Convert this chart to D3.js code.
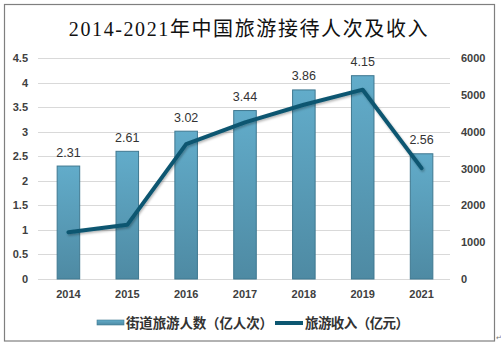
<!DOCTYPE html>
<html>
<head>
<meta charset="utf-8">
<script src="https://cdn.jsdelivr.net/npm/d3@7"></script>
<style>
  html, body { margin: 0; padding: 0; background: #fff; }
  svg { display: block; }
</style>
</head>
<body>
<div id="chart"></div>
<script>
// Visitors (bars, left axis) and revenue (line, right axis)
const years = ["2014", "2015", "2016", "2017", "2018", "2019", "2021"];
const visitors = [2.31, 2.61, 3.02, 3.44, 3.86, 4.15, 2.56];
const revenue = [1270, 1470, 3660, 4250, 4730, 5140, 3010];
const leftTicks = [0, 0.5, 1, 1.5, 2, 2.5, 3, 3.5, 4, 4.5];
const rightTicks = [0, 1000, 2000, 3000, 4000, 5000, 6000];
const titleText = "2014-2021年中国旅游接待人次及收入";
const barLegend = "街道旅游人数（亿人次）";
const lineLegend = "旅游收入（亿元）";

const width = 501, height = 345;
const plot = { left: 39, right: 451, top: 58, bottom: 279 };

const svg = d3.select("#chart").append("svg")
    .attr("width", width)
    .attr("height", height);

const defs = svg.append("defs");
const grad = defs.append("linearGradient")
    .attr("id", "barGrad")
    .attr("x1", 0).attr("y1", 0).attr("x2", 0).attr("y2", 1);
grad.append("stop").attr("offset", "0%").attr("stop-color", "#62acca");
grad.append("stop").attr("offset", "100%").attr("stop-color", "#4e8aa3");

const shadow = defs.append("filter").attr("id", "lineShadow")
    .attr("x", "-10%").attr("y", "-10%").attr("width", "120%").attr("height", "130%");
shadow.append("feDropShadow")
    .attr("dx", 1).attr("dy", 1.5).attr("stdDeviation", 1)
    .attr("flood-color", "#000").attr("flood-opacity", 0.3);

// outer frame
svg.append("rect")
    .attr("x", 4.5).attr("y", 4.5)
    .attr("width", 490).attr("height", 336.5)
    .attr("fill", "#fff")
    .attr("stroke", "#7f7f7f")
    .attr("stroke-width", 1.2);

svg.append("text")
    .attr("x", 496).attr("y", 340)
    .attr("font-size", 7)
    .attr("fill", "#777")
    .text("↵");

svg.append("text")
    .attr("x", 249).attr("y", 36)
    .attr("text-anchor", "middle")
    .attr("font-family", "'Liberation Serif', 'DejaVu Serif', 'Noto Sans CJK SC', serif")
    .attr("font-size", 20)
    .attr("letter-spacing", 1.6)
    .attr("fill", "#111")
    .text(titleText);

const x = d3.scaleBand()
    .domain(years)
    .range([plot.left, plot.right])
    .paddingInner(0.6)
    .paddingOuter(0.3);

const yLeft = d3.scaleLinear().domain([0, 4.5]).range([plot.bottom, plot.top]);
const yRight = d3.scaleLinear().domain([0, 6000]).range([plot.bottom, plot.top]);

// grid lines
svg.append("g")
    .selectAll("line")
    .data(leftTicks)
    .join("line")
    .attr("x1", plot.left - 1).attr("x2", plot.right - 1)
    .attr("y1", d => Math.round(yLeft(d)) + 0.5)
    .attr("y2", d => Math.round(yLeft(d)) + 0.5)
    .attr("stroke", "#d9d9d9")
    .attr("stroke-width", 1);

const labelFont = "'Liberation Sans', Arial, sans-serif";

function styleTicks(g) {
    g.select(".domain").remove();
    g.selectAll("text")
        .attr("font-family", labelFont)
        .attr("font-size", 11)
        .attr("font-weight", "bold")
        .attr("fill", "#404040");
}

svg.append("g")
    .attr("transform", `translate(28,0)`)
    .call(d3.axisLeft(yLeft).tickValues(leftTicks).tickSize(0).tickPadding(0)
        .tickFormat(d3.format("~g")))
    .call(styleTicks);

svg.append("g")
    .attr("transform", `translate(461,0)`)
    .call(d3.axisRight(yRight).tickValues(rightTicks).tickSize(0).tickPadding(0)
        .tickFormat(d3.format("d")))
    .call(styleTicks);

svg.append("g")
    .attr("transform", `translate(0,${plot.bottom + 11})`)
    .call(d3.axisBottom(x).tickSize(0).tickPadding(0))
    .call(styleTicks);

// bars
svg.append("g")
    .selectAll("rect")
    .data(visitors)
    .join("rect")
    .attr("x", (d, i) => x(years[i]) + 0.5)
    .attr("y", d => yLeft(d) + 0.5)
    .attr("width", x.bandwidth() - 1)
    .attr("height", d => plot.bottom - yLeft(d) - 0.5)
    .attr("fill", "url(#barGrad)")
    .attr("stroke", "#3f7890")
    .attr("stroke-width", 1);

svg.append("g")
    .selectAll("text")
    .data(visitors)
    .join("text")
    .attr("x", (d, i) => x(years[i]) + x.bandwidth() / 2)
    .attr("y", d => yLeft(d) - 9)
    .attr("text-anchor", "middle")
    .attr("font-family", labelFont)
    .attr("font-size", 12.5)
    .attr("fill", "#333")
    .text(d => d.toFixed(2));

// revenue line
const line = d3.line()
    .x((d, i) => x(years[i]) + x.bandwidth() / 2)
    .y(d => yRight(d));

svg.append("path")
    .datum(revenue)
    .attr("d", line)
    .attr("fill", "none")
    .attr("stroke", "#0d5771")
    .attr("stroke-width", 4)
    .attr("stroke-linejoin", "round")
    .attr("stroke-linecap", "round")
    .attr("filter", "url(#lineShadow)");

// legend: each label stretched to its measured slot
const legendY = 323;
const legendFont = "'Noto Sans CJK SC', sans-serif";
svg.append("rect")
    .attr("x", 97).attr("y", legendY - 3)
    .attr("width", 27).attr("height", 5)
    .attr("fill", "url(#barGrad)")
    .attr("stroke", "#3f7890")
    .attr("stroke-width", 0.6);
svg.append("text")
    .attr("x", 126).attr("y", legendY + 5)
    .attr("font-family", legendFont)
    .attr("font-size", 13.5)
    .attr("font-weight", "bold")
    .attr("fill", "#333")
    .attr("textLength", 147)
    .attr("lengthAdjust", "spacing")
    .text(barLegend);
svg.append("line")
    .attr("x1", 275).attr("x2", 303)
    .attr("y1", legendY).attr("y2", legendY)
    .attr("stroke", "#0d5771")
    .attr("stroke-width", 4);
svg.append("text")
    .attr("x", 305).attr("y", legendY + 5)
    .attr("font-family", legendFont)
    .attr("font-size", 13.5)
    .attr("font-weight", "bold")
    .attr("fill", "#333")
    .attr("textLength", 104)
    .attr("lengthAdjust", "spacing")
    .text(lineLegend);
</script>
</body>
</html>
